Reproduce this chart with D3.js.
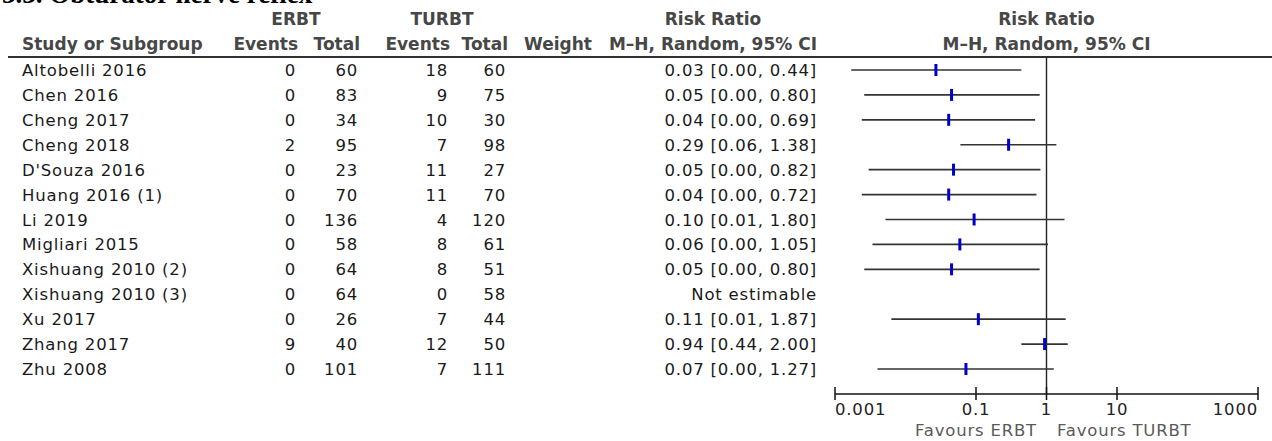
<!DOCTYPE html>
<html>
<head>
<meta charset="utf-8">
<script src="https://cdn.jsdelivr.net/npm/d3@7"></script>
<style>
  html, body { margin: 0; padding: 0; background: #fff; }
  svg { display: block; }
</style>
</head>
<body>
<svg id="chart" width="1272" height="441"></svg>
<script>
const studies = ["Altobelli 2016","Chen 2016","Cheng 2017","Cheng 2018","D'Souza 2016","Huang 2016 (1)","Li 2019","Migliari 2015","Xishuang 2010 (2)","Xishuang 2010 (3)","Xu 2017","Zhang 2017","Zhu 2008"];
const erbtEvents = [0,0,0,2,0,0,0,0,0,0,0,9,0];
const erbtTotal  = [60,83,34,95,23,70,136,58,64,64,26,40,101];
const turbtEvents = [18,9,10,7,11,11,4,8,8,0,7,12,7];
const turbtTotal  = [60,75,30,98,27,70,120,61,51,58,44,50,111];
const ciText = ["0.03 [0.00, 0.44]","0.05 [0.00, 0.80]","0.04 [0.00, 0.69]","0.29 [0.06, 1.38]","0.05 [0.00, 0.82]","0.04 [0.00, 0.72]","0.10 [0.01, 1.80]","0.06 [0.00, 1.05]","0.05 [0.00, 0.80]","Not estimable","0.11 [0.01, 1.87]","0.94 [0.44, 2.00]","0.07 [0.00, 1.27]"];
const rr    = [0.027,0.045,0.041,0.29,0.048,0.041,0.094,0.059,0.045,null,0.108,0.94,0.072];
const ciLow = [0.0017,0.0026,0.0024,0.06,0.0030,0.0024,0.0052,0.0034,0.0026,null,0.0063,0.44,0.0040];
const ciHigh= [0.44,0.80,0.69,1.38,0.82,0.72,1.80,1.05,0.80,null,1.87,2.00,1.27];
const tickValues = [0.001,0.1,1,10,1000];
const tickLabels = ["0.001","0.1","1","10","1000"];

const svg = d3.select("#chart");
const dataFont = "'DejaVu Sans', Verdana, sans-serif";
const headFont = "'DejaVu Sans', Verdana, sans-serif";
const dataSize = 16.5, dataSpacing = 0.8;

// title (cut off at the top)
svg.append("text").attr("x", 2).attr("y", 3)
  .attr("font-family", "'Liberation Serif', 'Times New Roman', serif")
  .attr("font-weight", "bold").attr("font-size", 27).attr("fill", "#000")
  .text("3.3. Obturator nerve reflex");

const x = d3.scaleLog().domain([0.001, 1000]).range([835, 1258]);
const y = d3.scalePoint().domain(studies).range([70, 369]);

const head = svg.append("g").attr("font-family", headFont).attr("font-weight", "bold")
  .attr("font-size", 17).attr("fill", "#474747");
const h1 = 25, h2 = 50;
const colRight = {ev1: 298, tot1: 360, ev2: 450, tot2: 508, weight: 592, ci: 817};
head.append("text").attr("x", 296).attr("y", h1).attr("text-anchor", "middle").text("ERBT");
head.append("text").attr("x", 442).attr("y", h1).attr("text-anchor", "middle").text("TURBT");
head.append("text").attr("x", 713).attr("y", h1).attr("text-anchor", "middle").text("Risk Ratio");
head.append("text").attr("x", x(1)).attr("y", h1).attr("text-anchor", "middle").text("Risk Ratio");
head.append("text").attr("x", 22).attr("y", h2).text("Study or Subgroup");
[["Events", colRight.ev1], ["Total", colRight.tot1], ["Events", colRight.ev2], ["Total", colRight.tot2],
 ["Weight", colRight.weight], ["M\u2013H, Random, 95% CI", colRight.ci]]
  .forEach(c => head.append("text").attr("x", c[1]).attr("y", h2).attr("text-anchor", "end").text(c[0]));
head.append("text").attr("x", x(1)).attr("y", h2).attr("text-anchor", "middle").text("M\u2013H, Random, 95% CI");

// header rule
svg.append("line").attr("x1", 8).attr("x2", 1272).attr("y1", 57).attr("y2", 57)
  .attr("stroke", "#333").attr("stroke-width", 2);

// data rows
const rows = svg.append("g").attr("font-family", dataFont).attr("font-size", dataSize)
  .attr("letter-spacing", dataSpacing).attr("fill", "#1a1a1a");
studies.forEach((s, i) => {
  const yy = y(s) + 6;
  rows.append("text").attr("x", 22).attr("y", yy).text(s);
  rows.append("text").attr("x", colRight.ev1 - 2).attr("y", yy).attr("text-anchor", "end").text(erbtEvents[i]);
  rows.append("text").attr("x", colRight.tot1 - 2).attr("y", yy).attr("text-anchor", "end").text(erbtTotal[i]);
  rows.append("text").attr("x", colRight.ev2 - 2).attr("y", yy).attr("text-anchor", "end").text(turbtEvents[i]);
  rows.append("text").attr("x", colRight.tot2 - 2).attr("y", yy).attr("text-anchor", "end").text(turbtTotal[i]);
  rows.append("text").attr("x", colRight.ci).attr("y", yy).attr("text-anchor", "end").text(ciText[i]);
});

// null line
svg.append("line").attr("x1", x(1)).attr("x2", x(1)).attr("y1", 57).attr("y2", 394)
  .attr("stroke", "#222").attr("stroke-width", 1.4);

// CIs
const plot = svg.append("g");
studies.forEach((s, i) => {
  if (rr[i] == null) return;
  plot.append("line").attr("x1", x(ciLow[i])).attr("x2", x(ciHigh[i]))
    .attr("y1", y(s)).attr("y2", y(s)).attr("stroke", "#333").attr("stroke-width", 1.6);
  plot.append("rect").attr("x", x(rr[i]) - 1.5).attr("y", y(s) - 6).attr("width", 3).attr("height", 12)
    .attr("fill", "#0000cc");
});

// axis
const ax = svg.append("g");
ax.append("line").attr("x1", x(0.001)).attr("x2", x(1000)).attr("y1", 394).attr("y2", 394)
  .attr("stroke", "#111").attr("stroke-width", 1.5);
tickValues.forEach((t, i) => {
  ax.append("line").attr("x1", x(t)).attr("x2", x(t)).attr("y1", 387).attr("y2", 400)
    .attr("stroke", "#111").attr("stroke-width", 1.5);
  const anchor = i === 0 ? "start" : (i === tickValues.length - 1 ? "end" : "middle");
  ax.append("text").attr("x", x(t)).attr("y", 415).attr("text-anchor", anchor)
    .attr("font-family", dataFont).attr("font-size", dataSize).attr("letter-spacing", dataSpacing)
    .attr("fill", "#222").text(tickLabels[i]);
});
svg.append("text").attr("x", 1037).attr("y", 436).attr("text-anchor", "end")
  .attr("font-family", dataFont).attr("font-size", dataSize).attr("letter-spacing", dataSpacing)
  .attr("fill", "#5a5a5a").text("Favours ERBT");
svg.append("text").attr("x", 1057).attr("y", 436).attr("text-anchor", "start")
  .attr("font-family", dataFont).attr("font-size", dataSize).attr("letter-spacing", dataSpacing)
  .attr("fill", "#5a5a5a").text("Favours TURBT");
</script>
</body>
</html>
